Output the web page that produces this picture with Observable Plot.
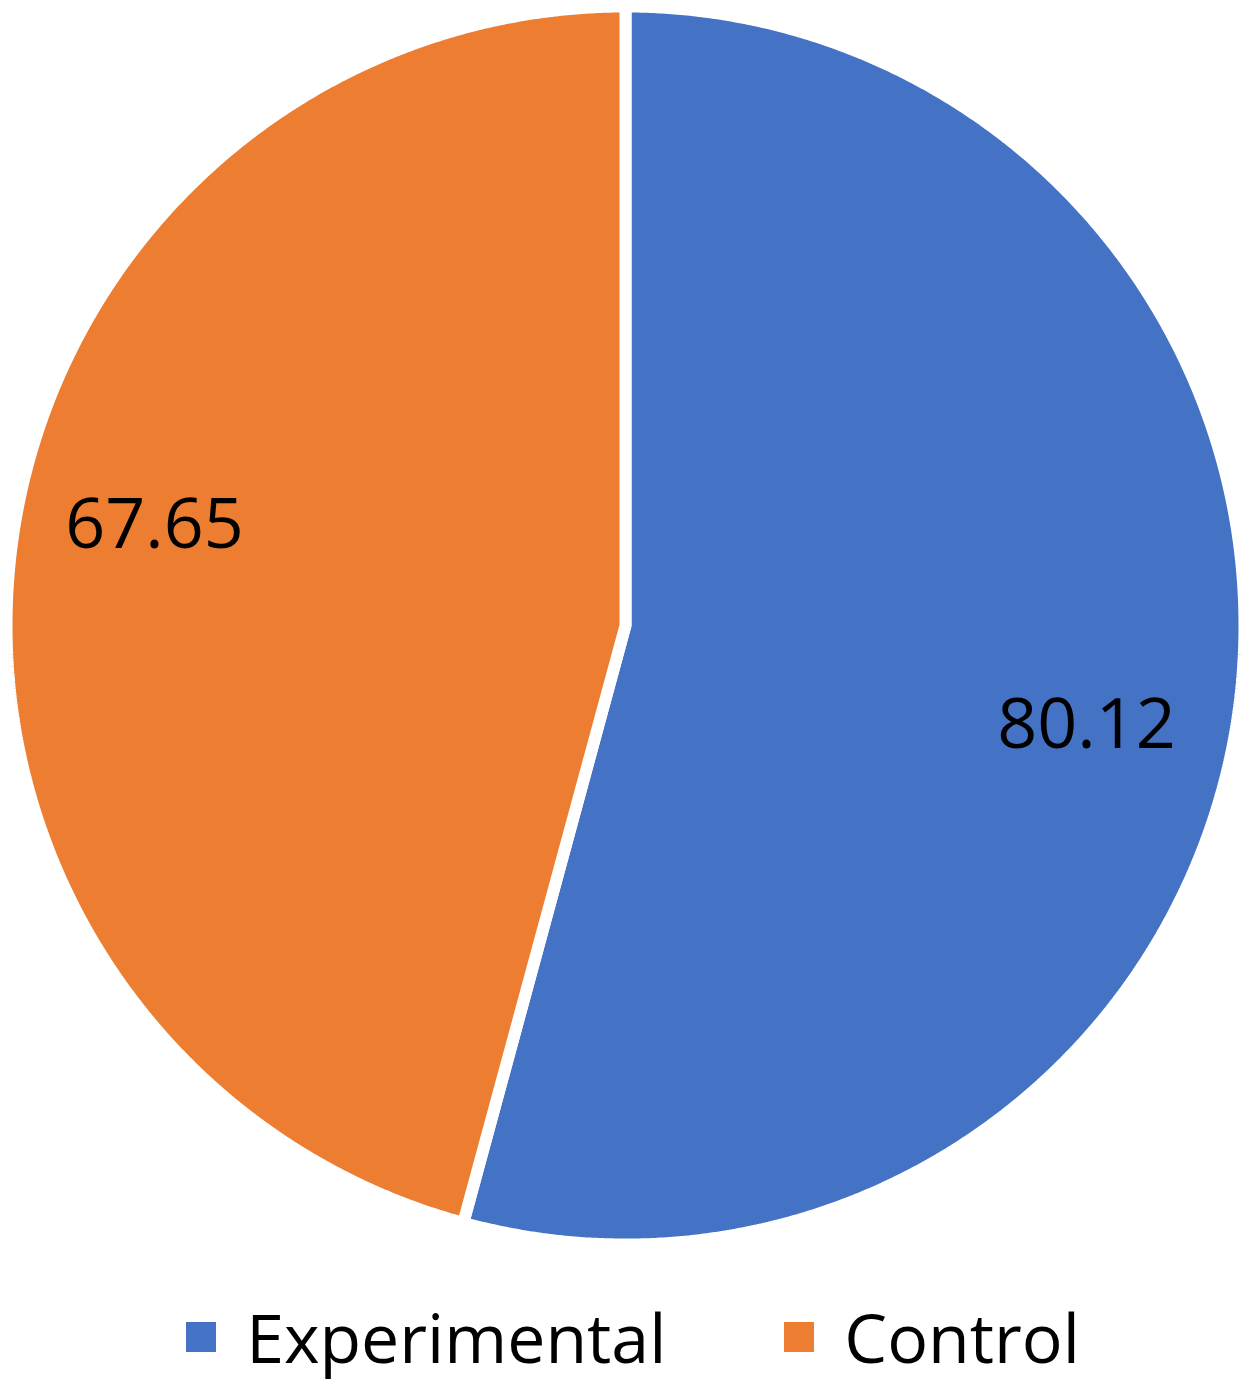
<!DOCTYPE html>
<html>
<head>
<meta charset="utf-8">
<script src="https://cdn.jsdelivr.net/npm/d3@7"></script>
<script src="https://cdn.jsdelivr.net/npm/@observablehq/plot@0.6"></script>
<style>
  html, body { margin: 0; padding: 0; background: #fff; }
  #chart { width: 1250px; }
  .legend { display: flex; justify-content: center; align-items: center; height: 113px; width: 1250px;
            font-family: "Open Sans", sans-serif; font-size: 68px; line-height: 1; color: #000; padding-left: 16px; box-sizing: border-box; }
  .item { display: flex; align-items: center; }
  .sw { width: 30px; height: 30px; margin-right: 30px; }
  .item + .item { margin-left: 118px; }
</style>
</head>
<body>
<div id="chart"></div>
<script>
const categories = ["Experimental", "Control"];
const values = [80.12, 67.65];
const colors = ["#4472C4", "#ED7D31"];

const data = categories.map((name, i) => ({name, value: values[i]}));
const arcs = d3.pie().sort(null).value(d => d.value).startAngle(0).endAngle(2 * Math.PI)(data);

// build slice polygons in unit polar coordinates (angle clockwise from top)
const pts = [];
for (const a of arcs) {
  const name = a.data.name;
  pts.push({name, x: 0, y: 0});
  const n = Math.max(2, Math.ceil((a.endAngle - a.startAngle) / 0.005));
  for (let k = 0; k <= n; k++) {
    const t = a.startAngle + (a.endAngle - a.startAngle) * k / n;
    pts.push({name, x: Math.sin(t), y: Math.cos(t)});
  }
}
const labelOffset = 4.5 * Math.PI / 180;
const labels = arcs.map(a => {
  const t = (a.startAngle + a.endAngle) / 2 + labelOffset;
  return {name: a.data.name, text: a.data.value.toFixed(2), x: 0.77 * Math.sin(t), y: 0.77 * Math.cos(t)};
});

const R = 619;
const plot = Plot.plot({
  width: 1250,
  height: 1280,
  margin: 0,
  x: {domain: [-1, 1], range: [625 - R, 625 + R], axis: null},
  y: {domain: [-1, 1], range: [625 + R, 625 - R], axis: null},
  color: {domain: categories, range: colors},
  style: {background: "#fff"},
  marks: [
    Plot.line(pts, {x: "x", y: "y", z: "name", fill: "name", stroke: "#fff", strokeWidth: 12,
                    curve: "linear-closed", strokeLinejoin: "miter"}),
    Plot.text(labels, {x: "x", y: "y", text: "text", fontSize: 70, fill: "#000", dx: -5,
                       fontFamily: "Open Sans", textAnchor: "middle", lineAnchor: "middle"})
  ]
});
document.getElementById("chart").appendChild(plot);

const legend = document.createElement("div");
legend.className = "legend";
categories.forEach((c, i) => {
  const it = document.createElement("div");
  it.className = "item";
  const sw = document.createElement("div");
  sw.className = "sw";
  sw.style.background = colors[i];
  const tx = document.createElement("span");
  tx.textContent = c;
  it.appendChild(sw);
  it.appendChild(tx);
  legend.appendChild(it);
});
document.body.appendChild(legend);
</script>
</body>
</html>
